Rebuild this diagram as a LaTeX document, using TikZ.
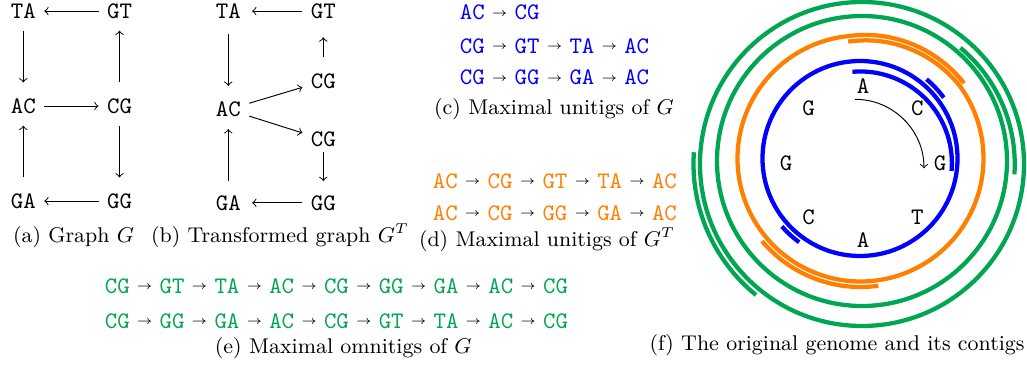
\documentclass[tikz,border=0pt]{standalone}
\usetikzlibrary{calc}
\definecolor{cblue}{RGB}{0,0,255}
\definecolor{corange}{RGB}{255,128,0}
\definecolor{cgreen}{RGB}{0,166,81}
\newcommand{\rar}{\textcolor{black}{\hspace{2.9pt}\raisebox{1.6pt}{\tiny$\rightarrow$}\hspace{2.9pt}}}
\begin{document}
\begin{tikzpicture}[x=0.4219pt,y=0.4219pt,
  gn/.style={font=\ttfamily, inner sep=3.4pt},
  vdown/.style={shorten <=1.5pt, shorten >=3.2pt},
  vup/.style={shorten <=3.2pt, shorten >=1.5pt},
  tl/.style={font=\ttfamily, anchor=base west, inner sep=0pt},
  captext/.style={font=\small, anchor=base, inner sep=0pt},
  gl/.style={font=\ttfamily, inner sep=0pt},
  ring/.style={line width=1.8pt}]
\useasboundingbox (0,0) rectangle (1027,-368);

% (a) graph G
\node[gn] (aTA) at (23.3,-11.1) {TA};
\node[gn] (aGT) at (119.5,-11.1) {GT};
\node[gn] (aAC) at (23.3,-106.1) {AC};
\node[gn] (aCG) at (119.5,-106.1) {CG};
\node[gn] (aGA) at (23.3,-201.1) {GA};
\node[gn] (aGG) at (119.5,-201.1) {GG};
\draw[->] (aGT) -- (aTA);
\draw[->,vdown] (aTA) -- (aAC);
\draw[->,vup] (aCG) -- (aGT);
\draw[->] (aAC) -- (aCG);
\draw[->,vdown] (aCG) -- (aGG);
\draw[->] (aGG) -- (aGA);
\draw[->,vup] (aGA) -- (aAC);
\node[captext] (capa) at (73.5,-243) {(a) Graph $G$};

% (b) transformed graph
\node[gn] (bTA) at (228.3,-11.1) {TA};
\node[gn] (bGT) at (323.3,-11.1) {GT};
\node[gn] (bCGu) at (323.3,-81.1) {CG};
\node[gn] (bAC) at (228.3,-109.5) {AC};
\node[gn] (bCGl) at (323.3,-139.5) {CG};
\node[gn] (bGA) at (228.3,-202.8) {GA};
\node[gn] (bGG) at (323.3,-202.8) {GG};
\draw[->,shorten >=1.2pt] (bGT) -- (bTA);
\draw[->,shorten <=2.9pt,shorten >=3.2pt] (bTA) -- (bAC);
\draw[->,shorten <=3.2pt,shorten >=4.3pt] (bCGu) -- (bGT);
\draw[->] (bAC) -- (bCGu);
\draw[->] (bAC) -- (bCGl);
\draw[->,shorten <=-1.3pt,shorten >=2.4pt] (bCGl) -- (bGG);
\draw[->,shorten >=1.2pt] (bGG) -- (bGA);
\draw[->,shorten <=2.4pt,shorten >=1.5pt] (bGA) -- (bAC);
\node[captext] (capb) at (280,-243) {(b) Transformed graph $G^T$};

% (c) unitigs of G
\node[tl,text=cblue] (c1) at (459.5,-20) {AC\rar CG};
\node[tl,text=cblue] (c2) at (459.5,-53.3) {CG\rar GT\rar TA\rar AC};
\node[tl,text=cblue] (c3) at (459.5,-85) {CG\rar GG\rar GA\rar AC};
\node[captext] (capc) at (554,-115) {(c) Maximal unitigs of $G$};

% (d) unitigs of G^T
\node[tl,text=corange] (d1) at (432.5,-188.3) {AC\rar CG\rar GT\rar TA\rar AC};
\node[tl,text=corange] (d2) at (432.5,-220) {AC\rar CG\rar GG\rar GA\rar AC};
\node[captext] (capd) at (547,-246.5) {(d) Maximal unitigs of $G^T$};

% (e) omnitigs
\node[tl,text=cgreen] (e1) at (104.5,-293.3) {CG\rar GT\rar TA\rar AC\rar CG\rar GG\rar GA\rar AC\rar CG};
\node[tl,text=cgreen] (e2) at (104.5,-328.3) {CG\rar GG\rar GA\rar AC\rar CG\rar GT\rar TA\rar AC\rar CG};
\node[captext] (cape) at (343.3,-353.3) {(e) Maximal omnitigs of $G$};

% (f) genome and contigs
\begin{scope}[shift={(863,-163)}]
  \node[gl] (g1) at (90:77) {A};
  \node[gl] (g2) at (45:77) {C};
  \node[gl] (g3) at (0:77) {G};
  \node[gl] (g4) at (-45:77) {T};
  \node[gl] (g5) at (-90:77) {A};
  \node[gl] (g6) at (-135:77) {C};
  \node[gl] (g7) at (180:77) {G};
  \node[gl] (g8) at (135:77) {G};
\end{scope}
\draw[->] (855,-99.3) arc[start angle=90,end angle=0,radius=69];

\begin{scope}[shift={(860,-158.5)}]
  \draw[ring,cblue] (0,0) circle[radius=97.5];
  \draw[ring,cblue] (95:87) arc[start angle=95,end angle=-5,radius=91.5];
  \draw[ring,cblue] (50:103.5) arc[start angle=50,end angle=36,radius=103.5];
  \draw[ring,cblue] (221:103.5) arc[start angle=221,end angle=234,radius=103.5];
\end{scope}

\begin{scope}[shift={(860.5,-158.5)}]
  \draw[ring,corange] plot[variable=\t,domain=-324:96,samples=211,smooth]
    (\t:{123-5.5*max(0,\t-36)/60+5*max(0,-264-\t)/60});
  \draw[ring,corange] (-140:128.5) arc[start angle=-140,end angle=-82,radius=128.5];
\end{scope}

\begin{scope}[shift={(862,-161)}]
  \draw[ring,cgreen] (0,0) circle[radius=145];
  \draw[ring,cgreen] plot[variable=\t,domain=-5:49,samples=40,smooth]
    (\t:{153-3*(\t+5)/54});
\end{scope}
\begin{scope}[shift={(862,-164)}]
  \draw[ring,cgreen] (0,0) circle[radius=162];
  \draw[ring,cgreen] (176:168.5) arc[start angle=176,end angle=231,radius=168.5];
\end{scope}
\node[captext] (capf) at (837,-350) {(f) The original genome and its contigs};
\end{tikzpicture}
\end{document}
